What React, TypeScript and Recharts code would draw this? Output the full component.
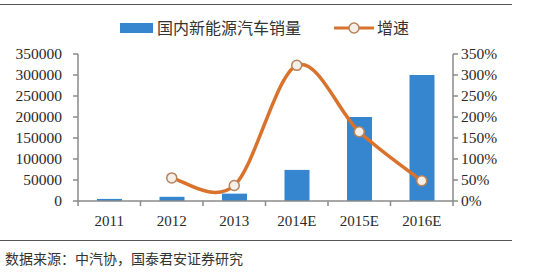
import React from "react";
import { ComposedChart, Bar, Line, XAxis, YAxis, Legend } from "recharts";

const categories = ["2011", "2012", "2013", "2014E", "2015E", "2016E"];
const sales = [5000, 10000, 17500, 74000, 200000, 300000];
const growth: (number | null)[] = [null, 55, 37, 323, 165, 48];
const leftTicks = [0, 50000, 100000, 150000, 200000, 250000, 300000, 350000];
const rightTicks = [0, 50, 100, 150, 200, 250, 300, 350];
const salesName = "国内新能源汽车销量";
const growthName = "增速";
const sourceText = "数据来源：中汽协，国泰君安证券研究";

const data = categories.map((c, i) => ({ name: c, sales: sales[i], growth: growth[i] }));

const BAR = "#3585CF";
const LINE = "#D8722C";
const AXIS = "#8a8a8a";
const TEXT = "#2a2a2a";
const SERIF = "'Liberation Serif', 'DejaVu Serif', serif";
const CJK = "'Noto Sans CJK SC', sans-serif";

const PLOT_LEFT = 78;
const PLOT_RIGHT = 453;
const HALF_BAND = (PLOT_RIGHT - PLOT_LEFT) / categories.length / 2;

// Excel-style smoothed line (uniform Catmull-Rom as cubic Bezier segments)
function excelSmooth(context: any) {
  let pts: [number, number][] = [];
  let lineFlag = NaN;
  const flush = () => {
    const n = pts.length;
    if (n === 0) return;
    context.moveTo(pts[0][0], pts[0][1]);
    if (n === 1) return;
    for (let i = 0; i < n - 1; i++) {
      const p0 = pts[Math.max(i - 1, 0)];
      const p1 = pts[i];
      const p2 = pts[i + 1];
      const p3 = pts[Math.min(i + 2, n - 1)];
      const c1x = p1[0] + (p2[0] - p0[0]) / 6;
      const c1y = p1[1] + (p2[1] - p0[1]) / 6;
      const c2x = p2[0] - (p3[0] - p1[0]) / 6;
      const c2y = p2[1] - (p3[1] - p1[1]) / 6;
      context.bezierCurveTo(c1x, c1y, c2x, c2y, p2[0], p2[1]);
    }
  };
  return {
    areaStart() { lineFlag = 0; },
    areaEnd() { lineFlag = NaN; },
    lineStart() { pts = []; },
    lineEnd() {
      flush();
      if (lineFlag === 0 && pts.length) context.closePath();
      pts = [];
    },
    point(x: number, y: number) { pts.push([+x, +y]); },
  };
}

const XTick = (props: any) => {
  const { x, y, payload, index } = props;
  const last = index === categories.length - 1;
  return (
    <g>
      <line x1={x - HALF_BAND} x2={x - HALF_BAND} y1={y - 8} y2={y - 3} stroke={AXIS} strokeWidth={1.5} />
      {last && (
        <line x1={x + HALF_BAND} x2={x + HALF_BAND} y1={y - 8} y2={y - 3} stroke={AXIS} strokeWidth={1.5} />
      )}
      <text x={x} y={y + 17} textAnchor="middle" fontFamily={SERIF} fontSize={15} fill={TEXT}>
        {payload.value}
      </text>
    </g>
  );
};

const LeftTick = (props: any) => {
  const { x, y, payload } = props;
  return (
    <text x={x} y={y} dy={5} textAnchor="end" fontFamily={SERIF} fontSize={15.5} fill={TEXT}>
      {payload.value}
    </text>
  );
};

const RightTick = (props: any) => {
  const { x, y, payload } = props;
  return (
    <text x={x} y={y} dy={5} textAnchor="start" fontFamily={SERIF} fontSize={15.5} fill={TEXT}>
      {`${payload.value}%`}
    </text>
  );
};

const LegendContent = () => (
  <div style={{ position: "relative", height: 20, fontFamily: CJK, fontSize: 16, color: "#333" }}>
    <div style={{ position: "absolute", left: 120, top: 5, width: 33, height: 10, background: BAR }} />
    <div style={{ position: "absolute", left: 157, top: -3, lineHeight: "24px" }}>{salesName}</div>
    <svg style={{ position: "absolute", left: 334, top: 0 }} width={40} height={20}>
      <line x1={0} x2={40} y1={10} y2={10} stroke={LINE} strokeWidth={3} />
      <circle cx={20} cy={10} r={5} fill="#F4F0E8" stroke="#B7835C" strokeWidth={1.5} />
    </svg>
    <div style={{ position: "absolute", left: 377, top: -3, lineHeight: "24px" }}>{growthName}</div>
  </div>
);

export default function App() {
  return (
    <div style={{ position: "absolute", left: 0, top: 0, width: 534, height: 279, background: "#fff", overflow: "hidden" }}>
      <div style={{ position: "absolute", left: 0, top: 4, width: 512, height: 1, background: "#555" }} />
      <ComposedChart
        width={534}
        height={279}
        data={data}
        margin={{ top: 34, right: 0, left: 0, bottom: 48 }}
        barCategoryGap={0}
      >
        <XAxis
          dataKey="name"
          xAxisId={0}
          height={30}
          stroke={AXIS}
          strokeWidth={1.5}
          tickLine={false}
          tick={<XTick />}
          interval={0}
        />
        <YAxis
          yAxisId="left"
          orientation="left"
          width={78}
          domain={[0, 350000]}
          ticks={leftTicks}
          interval={0}
          stroke={AXIS}
          strokeWidth={1.5}
          tickSize={5}
          tickMargin={11}
          tick={<LeftTick />}
        />
        <YAxis
          yAxisId="right"
          orientation="right"
          width={81}
          domain={[0, 350]}
          ticks={rightTicks}
          interval={0}
          stroke={AXIS}
          strokeWidth={1.5}
          tickSize={5}
          tickMargin={3}
          tick={<RightTick />}
        />
        <Legend verticalAlign="top" wrapperStyle={{ top: 18, left: 0, width: 534 }} content={<LegendContent />} />
        <Bar yAxisId="left" dataKey="sales" name={salesName} fill={BAR} barSize={25} isAnimationActive={false} />
        <Line
          yAxisId="right"
          dataKey="growth"
          name={growthName}
          type={excelSmooth as any}
          stroke={LINE}
          strokeWidth={3.5}
          dot={{ r: 5, fill: "#F4F0E8", stroke: "#B7835C", strokeWidth: 1.5 }}
          activeDot={false}
          isAnimationActive={false}
        />
      </ComposedChart>
      <div style={{ position: "absolute", left: 0, top: 240, width: 512, height: 1, background: "#555" }} />
      <div style={{ position: "absolute", left: 5, top: 248, fontFamily: CJK, fontSize: 14, color: "#333", lineHeight: "20px", whiteSpace: "nowrap" }}>
        {sourceText}
      </div>
    </div>
  );
}
